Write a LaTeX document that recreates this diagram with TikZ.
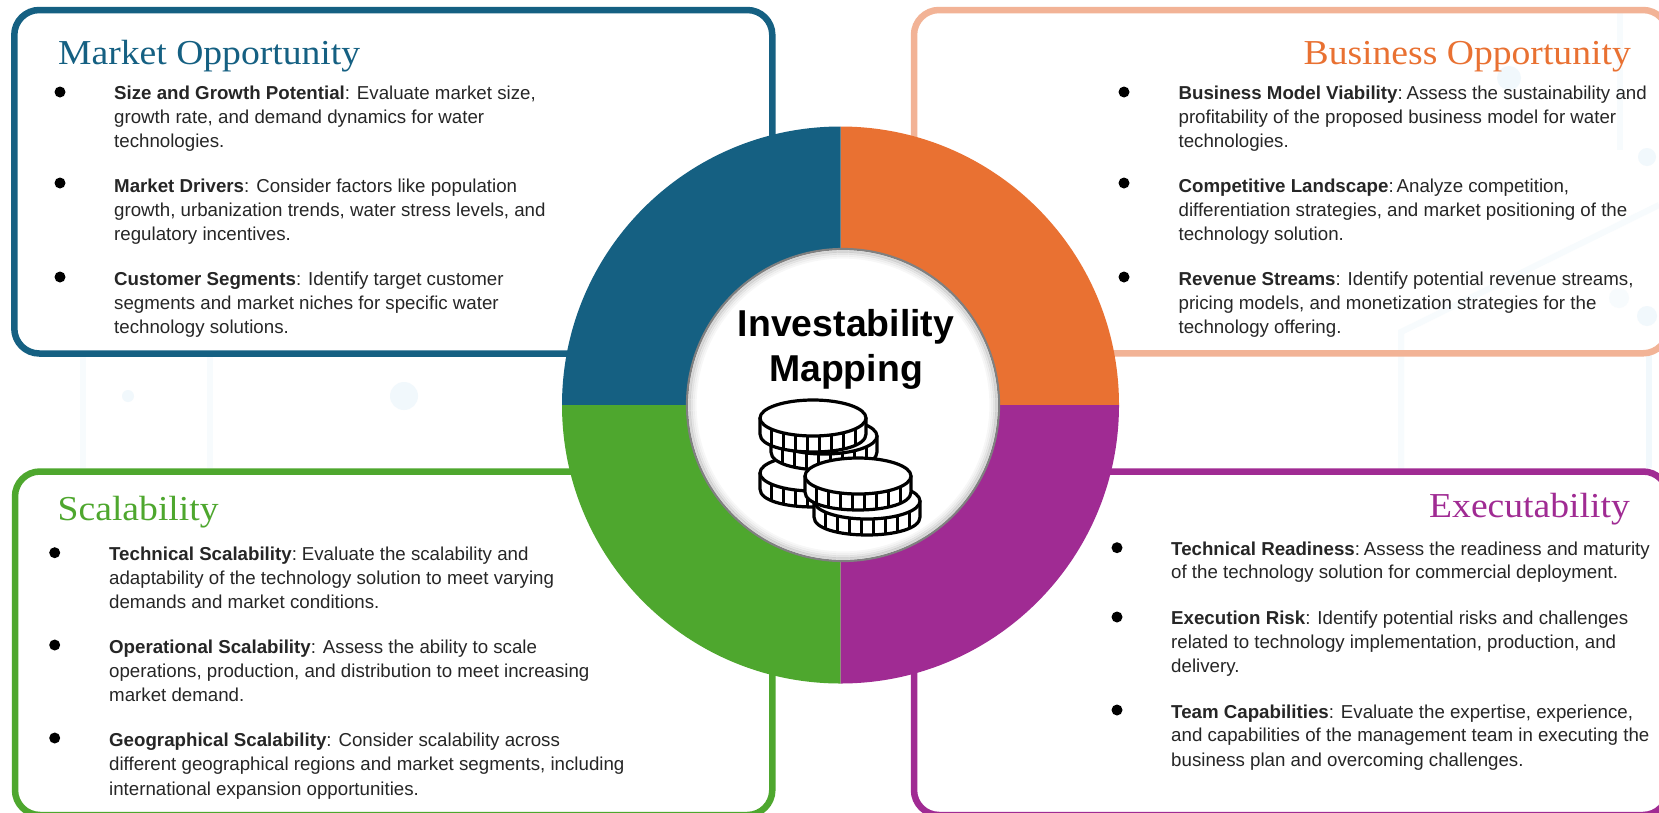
\documentclass[tikz,border=0pt]{standalone}
\usepackage{fontspec}
\setmainfont{Liberation Sans}
\newfontfamily\ttlfont[FakeStretch=1.075]{Liberation Serif}
\definecolor{cblue}{HTML}{156082}
\definecolor{corange}{HTML}{E97132}
\definecolor{cpeach}{HTML}{F2B396}
\definecolor{cgreen}{HTML}{4EA72E}
\definecolor{cpurple}{HTML}{A02B93}
\definecolor{cfaint}{HTML}{F1F8FC}
\definecolor{cfainter}{HTML}{F7FBFD}
\definecolor{ctext}{HTML}{262626}
\tikzset{
  framebox/.style={line width=6.5pt,rounded corners=25pt},
  ln/.style={anchor=base west,inner sep=0pt,text=ctext,font=\fontsize{18.7}{22}\selectfont},
  ttl/.style={inner sep=0pt,font=\ttlfont\fontsize{35}{40}\selectfont},
  ctr/.style={anchor=base,inner sep=0pt,text=black,font=\bfseries\fontsize{37.4}{42}\selectfont},
  bul/.style={circle,fill=black,inner sep=0pt,minimum size=11pt},
  faintdot/.style={fill=cfaint},
  faintline/.style={draw=cfainter,line width=6pt},
  coinline/.style={draw=black,fill=white,line width=3.2pt,line join=round},
}
\newcommand{\coincoin}[2]{%
  \path[coinline] (#1-53,#2) -- (#1-53,#2+16)
     .. controls (#1-53,#2+40) and (#1+53,#2+40) .. (#1+53,#2+16)
     -- (#1+53,#2) -- cycle;
  \foreach \ox/\oy in {-42/27,-30/30.5,-18/32.5,-6/34,6/34,18/32.5,30/30.5,42/27}
     \draw[line width=3pt] (#1+\ox,#2+\oy-15) -- (#1+\ox,#2+\oy);
  \path[coinline] (#1,#2) ellipse [x radius=53,y radius=18];
}
\begin{document}
\begin{tikzpicture}[x=1pt,y=-1pt]
\useasboundingbox (0,0) rectangle (1659,812);
\fill[white] (0,0) rectangle (1659,812);
\clip (0,0) rectangle (1659,812);
% faint background
\fill[faintdot] (404,396) circle[radius=14];
\fill[faintdot] (128,396) circle[radius=6];
\fill[faintdot] (1509,78) circle[radius=12];
\fill[faintdot] (1647,157) circle[radius=9];
\fill[faintdot] (1647,316) circle[radius=10];
\fill[cfainter] (1619,298) circle[radius=10];
\path[faintline] (83,357) -- (83,468);
\path[faintline] (210,357) -- (210,468);
\path[faintline] (1401,470) -- (1401,332) -- (1659,205);
\path[faintline] (1620,13) -- (1620,150);
\path[draw=cfaint,line width=6pt] (1649,350) -- (1649,468);
% frames
\draw[framebox,cblue] (14.3,10) rectangle (772.3,353.5);
\draw[framebox,cpeach] (914,10) rectangle (1668,353.3);
\draw[framebox,cgreen] (15,471.5) rectangle (772.3,815);
\draw[framebox,cpurple] (914,471.5) rectangle (1668,815);
% ring
\fill[corange] (840.5,405) -- (1119,405) arc[start angle=0,end angle=-90,radius=278.5] -- cycle;
\fill[cblue] (840.5,405) -- (840.5,126.5) arc[start angle=-90,end angle=-180,radius=278.5] -- cycle;
\fill[cgreen] (840.5,405) -- (562,405) arc[start angle=180,end angle=90,radius=278.5] -- cycle;
\fill[cpurple] (840.5,405) -- (840.5,683.5) arc[start angle=90,end angle=0,radius=278.5] -- cycle;
% centre disc
\fill[white] (843,405) circle[radius=156];
\foreach \rr/\op in {153.5/0.16,151.5/0.10,149.5/0.06,147.5/0.03}
  \draw[black,opacity=\op,line width=2.2pt] (843,405) circle[radius=\rr];
\draw[gray,line width=2.2pt] (843,405) circle[radius=156];
% coins
\coincoin{813}{473}
\coincoin{824}{436}
\coincoin{813}{418}
\coincoin{867}{501}
\coincoin{858}{476}
\node[ctr] (c1) at (846,336.7) {Investability};
\node[ctr] (c2) at (846,381.7) {Mapping};
% titles
\node[ttl,text=cblue,anchor=base west] (t1) at (58,64) {Market Opportunity};
\node[ttl,text=corange,anchor=base east] (t2) at (1631,64) {Business Opportunity};
\node[ttl,text=cgreen,anchor=base west] (t3) at (57.5,520) {Scalability};
\node[ttl,text=cpurple,anchor=base east] (t4) at (1630,517) {Executability};
% market
\node[bul] (ma) at (60,92) {};
\node[bul] (mb) at (60,183) {};
\node[bul] (mc) at (60,277) {};
\node[ln] (m1) at (114,99) {\textbf{Size and Growth Potential}: Evaluate market size,};
\node[ln] (m2) at (114,123) {growth rate, and demand dynamics for water};
\node[ln] (m3) at (114,147) {technologies.};
\node[ln] (m4) at (114,192) {\textbf{Market Drivers}: Consider factors like population};
\node[ln] (m5) at (114,216) {growth, urbanization trends, water stress levels, and};
\node[ln] (m6) at (114,240) {regulatory incentives.};
\node[ln] (m7) at (114,285) {\textbf{Customer Segments}: Identify target customer};
\node[ln] (m8) at (114,309) {segments and market niches for specific water};
\node[ln] (m9) at (114,333) {technology solutions.};
% business
\node[bul] (ba) at (1124,92) {};
\node[bul] (bb) at (1124,183) {};
\node[bul] (bc) at (1124,277) {};
\node[ln] (b1) at (1178.4,99) {\textbf{Business Model Viability}:\hspace{-3pt} Assess the sustainability and};
\node[ln] (b2) at (1178.4,123) {profitability of the proposed business model for water};
\node[ln] (b3) at (1178.4,147) {technologies.};
\node[ln] (b4) at (1178.4,192) {\textbf{Competitive Landscape}:\hspace{-4pt} Analyze competition,};
\node[ln] (b5) at (1178.4,216) {differentiation strategies, and market positioning of the};
\node[ln] (b6) at (1178.4,240) {technology solution.};
\node[ln] (b7) at (1178.4,285) {\textbf{Revenue Streams}: Identify potential revenue streams,};
\node[ln] (b8) at (1178.4,309) {pricing models, and monetization strategies for the};
\node[ln] (b9) at (1178.4,333) {technology offering.};
% scalability
\node[bul] (sa) at (54.7,552.7) {};
\node[bul] (sb) at (54.7,645) {};
\node[bul] (sc) at (54.7,738) {};
\node[ln] (s1) at (109,560) {\textbf{Technical Scalability}:\hspace{-2pt} Evaluate the scalability and};
\node[ln] (s2) at (109,584) {adaptability of the technology solution to meet varying};
\node[ln] (s3) at (109,608) {demands and market conditions.};
\node[ln] (s4) at (109,653) {\textbf{Operational Scalability}: Assess the ability to scale};
\node[ln] (s5) at (109,677) {operations, production, and distribution to meet increasing};
\node[ln] (s6) at (109,701.5) {market demand.};
\node[ln] (s7) at (109,746) {\textbf{Geographical Scalability}: Consider scalability across};
\node[ln] (s8) at (109,770.5) {different geographical regions and market segments, including};
\node[ln] (s9) at (109,795) {international expansion opportunities.};
% executability
\node[bul] (ea) at (1117,547.7) {};
\node[bul] (eb) at (1117,617) {};
\node[bul] (ec) at (1117,710) {};
\node[ln] (e1) at (1171,555) {\textbf{Technical Readiness}:\hspace{-3pt} Assess the readiness and maturity};
\node[ln] (e2) at (1171,578.5) {of the technology solution for commercial deployment.};
\node[ln] (e3) at (1171,624) {\textbf{Execution Risk}: Identify potential risks and challenges};
\node[ln] (e4) at (1171,648) {related to technology implementation, production, and};
\node[ln] (e5) at (1171,672) {delivery.};
\node[ln] (e6) at (1171,718) {\textbf{Team Capabilities}: Evaluate the expertise, experience,};
\node[ln] (e7) at (1171,741.5) {and capabilities of the management team in executing the};
\node[ln] (e8) at (1171,766) {business plan and overcoming challenges.};
\end{tikzpicture}
\end{document}
